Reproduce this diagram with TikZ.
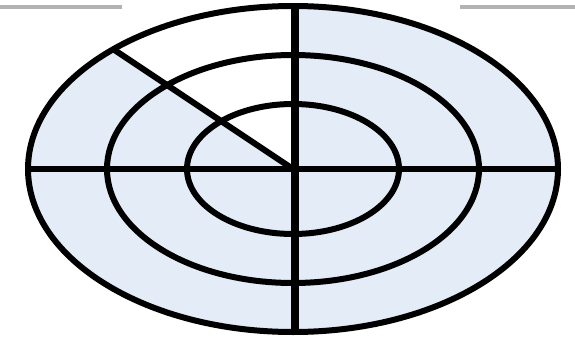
\documentclass[tikz,border=0pt]{standalone}
\definecolor{ringblue}{HTML}{E4ECF7}
\begin{document}
\begin{tikzpicture}[x=0.02cm,y=-0.02cm,
  ring/.style={line width=0.12cm},
  rule/.style={gray!60,line width=0.08cm}]
  \useasboundingbox (0,0) rectangle (575,338);
  \coordinate (c) at (293,169);
  \coordinate (d) at (113,49);
  \coordinate (top) at (295,4);
  \coordinate (bot) at (295,331);
  \coordinate (left) at (28,169);
  \coordinate (right) at (558,169);
  % background and the white sector
  \fill[ringblue] (c) ellipse [x radius=265,y radius=163];
  \begin{scope}
    \clip (c) ellipse [x radius=265,y radius=163];
    \fill[white] (c) -- (-67,-71) -- (295,-71) -- (295,169) -- cycle;
  \end{scope}
  \draw[ring] (c) ellipse [x radius=265,y radius=163];
  \draw[ring] (c) ellipse [x radius=186,y radius=114];
  \draw[ring] (c) ellipse [x radius=106,y radius=65];
  \draw[ring] (left) -- (right);
  \draw[ring,line width=0.15cm] (top) -- (bot);
  \draw[ring] (c) -- (d);
  \draw[rule] (0,7) -- (122,7);
  \draw[rule] (460,7) -- (575,7);
\end{tikzpicture}
\end{document}
